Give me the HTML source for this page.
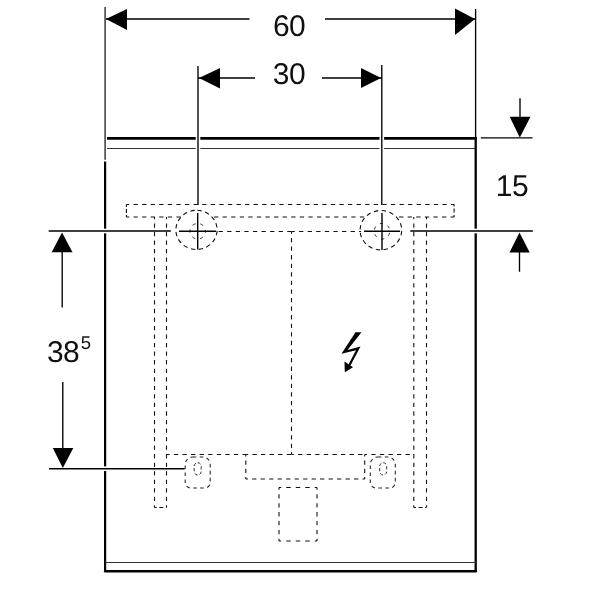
<!DOCTYPE html>
<html><head><meta charset="utf-8">
<style>
html,body{margin:0;padding:0;background:#fff;}
body{width:600px;height:600px;overflow:hidden;}
svg{display:block;}
text{font-family:"Liberation Sans",sans-serif;fill:#111;text-rendering:geometricPrecision;}
.d{stroke:#111;stroke-width:1.1;fill:none;stroke-dasharray:4.3 4.28;}
.t{stroke:#000;stroke-width:1.35;fill:none;}
.k{stroke:#000;fill:none;}
.w{stroke:#fff;fill:none;stroke-width:4.6;}
</style></head><body>
<svg width="600" height="600" viewBox="0 0 600 600">
<rect width="600" height="600" fill="#fff"/>

<!-- main body thick lines -->
<line class="k" x1="107" y1="138.3" x2="476.8" y2="138.3" stroke-width="2.7"/>
<line x1="107" y1="148.5" x2="475" y2="148.5" stroke="#333" stroke-width="1"/>
<line class="k" x1="105.1" y1="161.5" x2="105.1" y2="571.2" stroke-width="2.2"/>
<line class="k" x1="475.7" y1="137" x2="475.7" y2="571.2" stroke-width="2.3"/>
<line class="k" x1="105.2" y1="571.2" x2="475.7" y2="571.2" stroke-width="2.5" stroke-linecap="round"/>
<line x1="105" y1="562.5" x2="476" y2="562.5" stroke="#333" stroke-width="1"/>

<!-- dashed hidden geometry -->
<path class="d" stroke-dashoffset="1.38" d="M126.3,204.5 H454.2"/>
<path class="d" style="stroke-dasharray:2.5 2 4 2 2" d="M126.4,204.5 V217"/>
<path class="d" style="stroke-dasharray:2 2 4 2.5 2" d="M454.1,204.5 V217"/>
<path class="d" stroke-dashoffset="1.38" d="M126.3,217 H181"/>
<path class="d" stroke-dashoffset="6.58" d="M212,217 H366"/>
<path class="d" stroke-dashoffset="5.48" d="M396,217 H454.2"/>
<path class="d" stroke-dashoffset="0" d="M218.6,231.5 H291.5"/>
<path class="d" stroke-dashoffset="1" d="M291.5,231.5 H361"/>
<path class="d" style="stroke-dasharray:4.3 4.244" stroke-dashoffset="2.15" d="M154.5,217 V507.5"/>
<path class="d" style="stroke-dasharray:4.3 4.244" stroke-dashoffset="2.15" d="M166.5,217 V507.5"/>
<path class="d" style="stroke-dasharray:2.2 2.6 4 2.6 1" d="M154.5,507.5 H166.5"/>
<path class="d" style="stroke-dasharray:4.3 4.244" stroke-dashoffset="2.15" d="M413.8,217 V507.5"/>
<path class="d" style="stroke-dasharray:4.3 4.244" stroke-dashoffset="2.15" d="M426.5,217 V507.5"/>
<path class="d" style="stroke-dasharray:2.2 2.6 4 2.6 1" d="M413.8,507.5 H426.5"/>
<path class="d" stroke-dashoffset="1.2" d="M166.5,454.5 H245.8"/>
<path class="d" stroke-dashoffset="2" d="M245.8,454.5 H291.5"/>
<path class="d" stroke-dashoffset="2" d="M291.5,454.5 H364.7"/>
<path class="d" stroke-dashoffset="2" d="M364.7,454.5 H413.8"/>
<path class="d" style="stroke-dasharray:4.3 4.277" stroke-dashoffset="2.15" d="M291.5,231.5 V454.5"/>
<path class="d" style="stroke-dasharray:4.1 4.07" stroke-dashoffset="2.05" d="M245.8,454.5 V479"/>
<path class="d" style="stroke-dasharray:4.3 4.19" stroke-dashoffset="2.15" d="M245.8,479 H364.7"/>
<path class="d" style="stroke-dasharray:4.1 4.07" stroke-dashoffset="2.05" d="M364.7,454.5 V479"/>
<path class="d" style="stroke-dasharray:4.5 5" stroke-dashoffset="2.25" d="M279,487.5 H317"/>
<path class="d" style="stroke-dasharray:4.5 5" stroke-dashoffset="2.25" d="M279,541 H317"/>
<path class="d" style="stroke-dasharray:4.3 4.617" stroke-dashoffset="2.15" d="M279,487.5 V541"/>
<path class="d" style="stroke-dasharray:4.3 4.617" stroke-dashoffset="2.15" d="M317,487.5 V541"/>
<path class="d" style="stroke-dasharray:3.6 3.4;stroke-width:1.05;stroke:#222" d="M192.7,457.0 H202.7 A7.5,7.5 0 0 1 210.2,464.5 V482.5 A5.5,5.5 0 0 1 204.7,488.0 H190.7 A5.5,5.5 0 0 1 185.2,482.5 V464.5 A7.5,7.5 0 0 1 192.7,457.0 Z"/>
<path class="d" style="stroke-dasharray:3.6 3.4;stroke-width:1.05;stroke:#222" d="M377.8,457.0 H387.8 A7.5,7.5 0 0 1 395.3,464.5 V482.5 A5.5,5.5 0 0 1 389.8,488.0 H375.8 A5.5,5.5 0 0 1 370.3,482.5 V464.5 A7.5,7.5 0 0 1 377.8,457.0 Z"/>
<rect class="d" style="stroke-dasharray:3.2 2.2;stroke-width:1;stroke:#333" x="194.2" y="462.7" width="7" height="12.3" rx="3.5"/>
<rect class="d" style="stroke-dasharray:3.2 2.2;stroke-width:1;stroke:#333" x="379.7" y="462.7" width="7" height="12.3" rx="3.5"/>
<path class="d" style="stroke-dasharray:4.4 3.5" stroke-dashoffset="-0.8" d="M196.5,210.30 A20.6,19.6 0 1 1 196.5,249.50 A20.6,19.6 0 1 1 196.5,210.30"/>
<path class="d" style="stroke-dasharray:4.4 3.5" stroke-dashoffset="-0.8" d="M380.9,210.50 A20.8,19.7 0 1 1 380.9,249.90 A20.8,19.7 0 1 1 380.9,210.50"/>
<circle class="d" style="stroke-dasharray:3.4 4.77;stroke-width:1;stroke:#333" cx="197.7" cy="231.2" r="7.8" stroke-dashoffset="1.7"/>
<circle class="d" style="stroke-dasharray:3.2 4.97;stroke-width:1;stroke:#333" cx="382" cy="231.2" r="7.8" stroke-dashoffset="6.5"/>

<!-- halos -->
<line class="w" x1="198" y1="134" x2="198" y2="152"/>
<line class="w" x1="381.8" y1="134" x2="381.8" y2="152"/>
<line class="w" x1="100" y1="231" x2="110" y2="231"/>
<line class="w" x1="470" y1="231" x2="481" y2="231"/>
<line class="w" x1="100" y1="468.7" x2="110" y2="468.7"/>

<!-- cross hairs -->
<path class="t" style="stroke-width:1.4" d="M179,231.2 H216 M197.7,213 V249.6"/>
<path class="t" style="stroke-width:1.4" d="M364,231.2 H400 M382,213 V250"/>

<!-- extension + dimension lines -->
<path class="t" style="stroke:#3a3a3a;stroke-width:1.5" d="M105.1,7 V159.7"/>
<path class="t" d="M475.6,9 V137"/>
<path class="t" d="M106,19 H249.5 M325,19 H475"/>
<path class="t" d="M198,66 V205 M381.8,65 V205"/>
<path class="t" d="M198,78 H255 M322,78 H382"/>
<path class="t" d="M48.7,231 H170.8 M410.3,231 H532.8"/>
<path class="t" d="M49,468.7 H184.7"/>
<path class="t" d="M480.8,137.8 H532.5"/>
<path class="t" d="M62.2,252 V307.5 M62.8,382 V448.5"/>
<path class="t" d="M520,98.3 V117 M519.5,252 V271.7"/>

<!-- arrow heads -->
<g fill="#000">
<polygon points="106,19 127,9 127,30"/>
<polygon points="475,19 455,8.5 455,35"/>
<polygon points="199,78 220,68 220,88.5"/>
<polygon points="381,78 361,68 361,88"/>
<polygon points="62,232.5 51.7,252.2 72.5,252.2"/>
<polygon points="62.8,468 52.8,448 73.3,448"/>
<polygon points="519.8,137.5 509.7,116.7 530.5,116.7"/>
<polygon points="519.5,232.5 509.5,252.5 529.7,252.5"/>
</g>

<!-- lightning -->
<polygon fill="#000" points="355.5,332.2 361.5,332.2 347.5,350 360.5,346.5 350.5,365.5 348.5,364.5 356,350.2 341.5,353.7"/>
<polygon fill="#000" points="344.5,361.5 353,367.2 344.8,372.2"/>

<!-- text -->
<g font-size="30" letter-spacing="-0.6" style="filter:grayscale(1)">
<text x="273" y="35.8">60</text>
<text x="272.8" y="84">30</text>
<text x="495.8" y="195.8">15</text>
<text x="47" y="361.8">38</text>
</g>
<text x="80.7" y="348.6" font-size="18.5" style="filter:grayscale(1)">5</text>
</svg>
</body></html>
